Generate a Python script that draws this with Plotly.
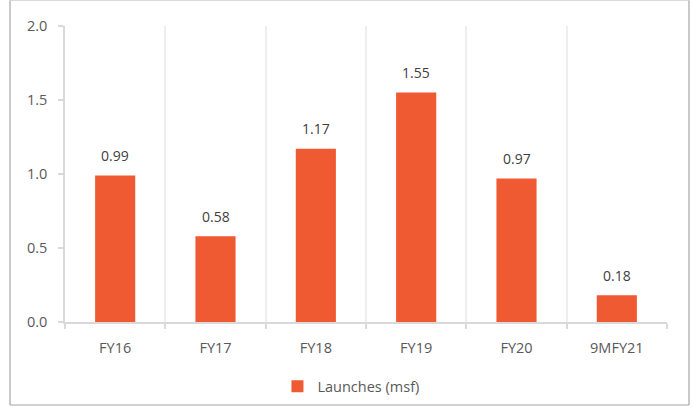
import plotly.graph_objects as go

# Annual launches, million square feet
categories = ["FY16", "FY17", "FY18", "FY19", "FY20", "9MFY21"]
launches = [0.99, 0.58, 1.17, 1.55, 0.97, 0.18]
series_name = "Launches (msf)"
y_ticks = [0.0, 0.5, 1.0, 1.5, 2.0]

BAR = "#F05A33"
FONT = "Open Sans"

fig = go.Figure()
fig.add_trace(go.Bar(
    x=categories, y=launches, name=series_name,
    marker=dict(color=BAR, line=dict(width=0)),
    showlegend=True,
))

# Value labels above each bar
for c, v in zip(categories, launches):
    fig.add_annotation(x=c, y=v, text=f"{v:.2f}", showarrow=False,
                       yshift=20, font=dict(family=FONT, size=14, color="#404040"))

W, H = 693, 407
L, R, T, B = 65, 26, 26, 85
pw, ph = W - L - R, H - T - B

def px(x):
    return (x - L) / pw

def py(y):
    return (H - B - y) / ph

# Outer frame around the chart
frame = [
    (10, 0.5, 689, 0.5, "#d9d9d9"),
    (10, 0.5, 10, 405, "#a6a6a6"),
    (689, 0.5, 689, 405, "#a6a6a6"),
    (10, 405, 689, 405, "#a6a6a6"),
]
for x0, y0, x1, y1, col in frame:
    fig.add_shape(type="line", xref="paper", yref="paper",
                  x0=px(x0), y0=py(y0), x1=px(x1), y1=py(y1),
                  line=dict(color=col, width=1.2))

fig.update_layout(
    width=W, height=H,
    margin=dict(l=L, r=R, t=T, b=B, autoexpand=False),
    paper_bgcolor="white", plot_bgcolor="white",
    bargap=0.6,
    font=dict(family=FONT, size=14, color="#595959"),
    xaxis=dict(
        type="category", tickson="boundaries", showgrid=True,
        gridcolor="#eeeeee", gridwidth=1.5,
        showline=True, linecolor="#d9d9d9", linewidth=1.5,
        ticks="outside", ticklen=5, tickcolor="#d9d9d9", tickwidth=1.5,
        tickfont=dict(family=FONT, size=14.5, color="#595959"),
        ticklabelstandoff=12,
        range=[-0.5, 5.5],
    ),
    yaxis=dict(
        range=[0, 2.0], tickvals=y_ticks,
        ticktext=[f"{t:.1f}" for t in y_ticks],
        showgrid=False, zeroline=False,
        showline=True, linecolor="#d9d9d9", linewidth=1.5,
        ticks="outside", ticklen=5, tickcolor="#d9d9d9", tickwidth=1.5,
        tickfont=dict(family=FONT, size=14.5, color="#595959"),
        ticklabelstandoff=8,
    ),
    legend=dict(orientation="h", x=0.475, xanchor="center", y=-0.217, yanchor="middle",
                font=dict(family=FONT, size=14.5, color="#595959"),
                itemwidth=30),
)

fig.write_html("out.html")
